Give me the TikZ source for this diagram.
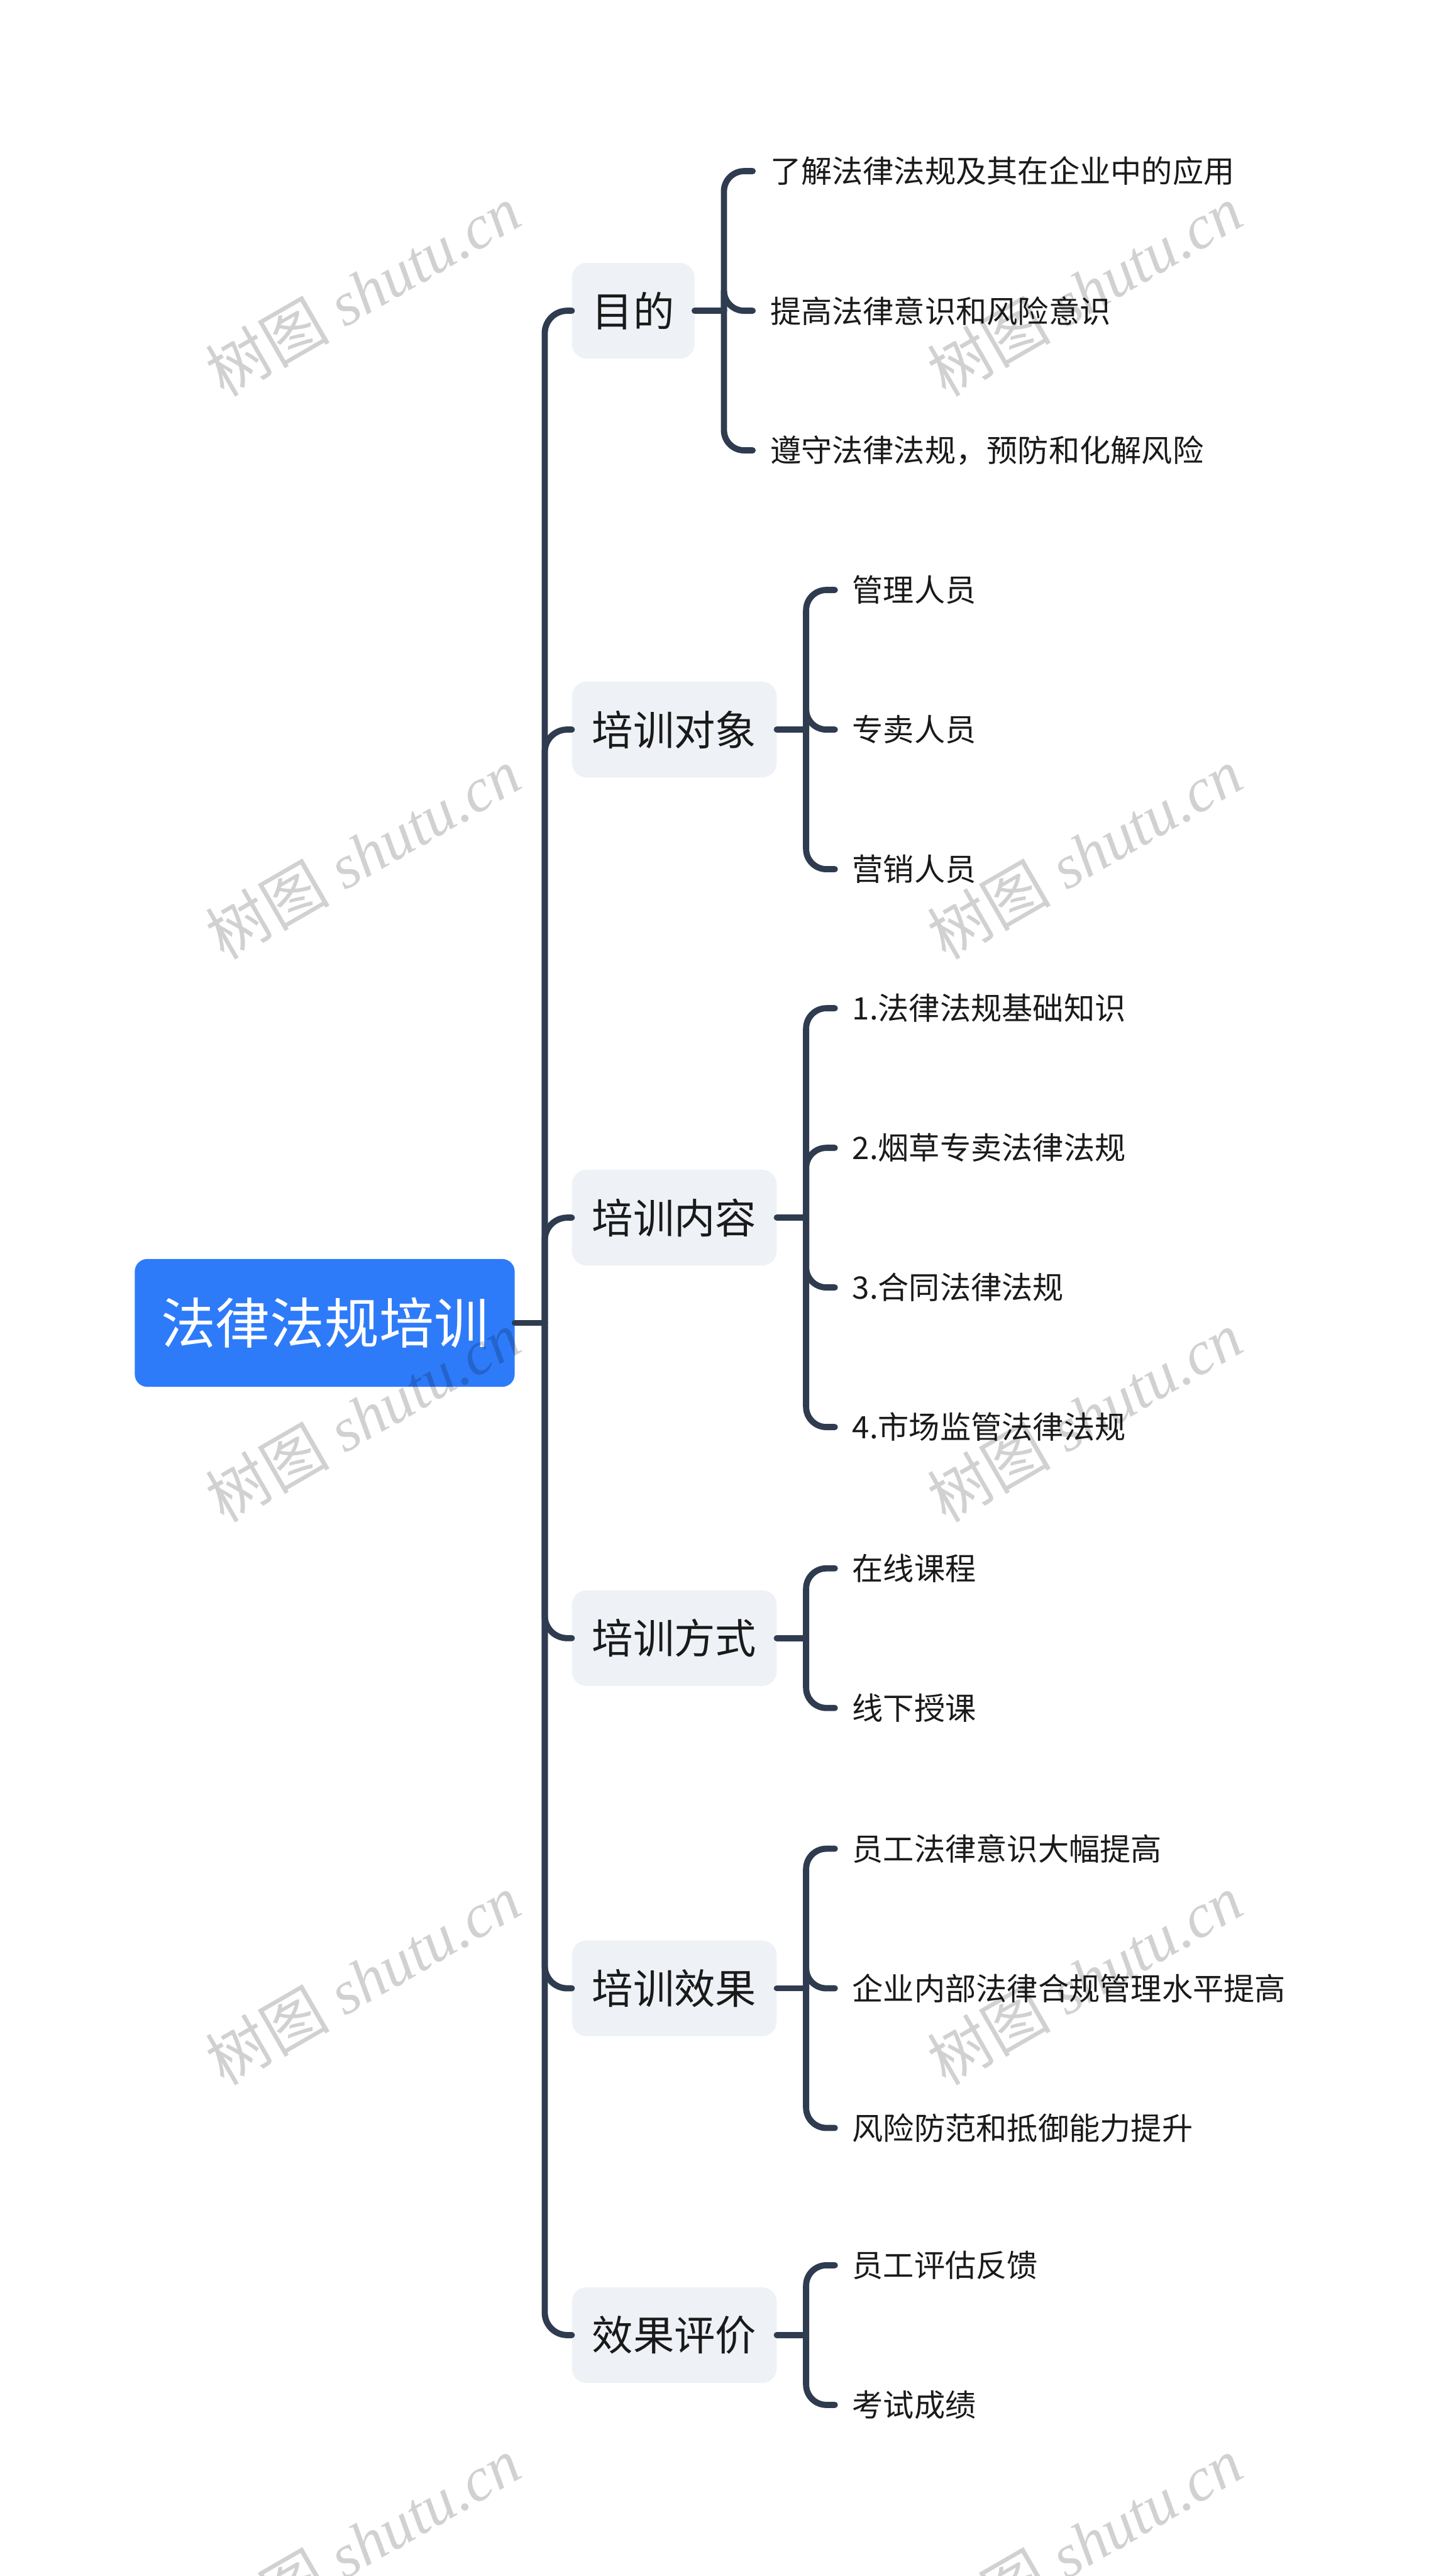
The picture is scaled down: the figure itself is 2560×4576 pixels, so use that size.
\documentclass[tikz,border=0pt]{standalone}
\usepackage{fontspec}
\setmainfont{Noto Sans CJK SC}
\newfontfamily\wmcjk{Noto Sans CJK SC}
\newfontfamily\wmlat{Liberation Serif}
\definecolor{linec}{HTML}{2F3B4F}
\definecolor{rootc}{HTML}{2E7BF9}
\definecolor{subc}{HTML}{EEF1F5}
\definecolor{txtc}{HTML}{1A1A1A}
\begin{document}
\begin{tikzpicture}[x=1pt,y=-1pt,
  conn/.style={draw=linec,line width=11pt,line cap=round},
  rootbox/.style={fill=rootc,rounded corners=22pt,minimum width=675pt,minimum height=227pt,text=white,font=\fontsize{97}{116}\selectfont,inner sep=0pt},
  subbox/.style={fill=subc,rounded corners=26pt,minimum height=170pt,inner xsep=36pt,inner ysep=0pt,text=txtc,font=\fontsize{73}{88}\selectfont,anchor=west},
  leafbox/.style={inner xsep=31pt,inner ysep=0pt,minimum height=80pt,text=txtc,font=\fontsize{55}{66}\selectfont,anchor=west},
  wm/.style={rotate=30,text=black,opacity=0.18,font=\fontsize{110}{130}\selectfont}
]
\useasboundingbox (0,0) rectangle (2560,4576);

% root and level 1
\node[rootbox] (root) at (577,2350) {法律法规培训};
\coordinate (J) at (968,2350);

\node[subbox] (s1) at (1016,552) {目的};
\node[subbox] (s2) at (1016,1296) {培训对象};
\node[subbox] (s3) at (1016,2163) {培训内容};
\node[subbox] (s4) at (1016,2910) {培训方式};
\node[subbox] (s5) at (1016,3532) {培训效果};
\node[subbox] (s6) at (1016,4148) {效果评价};

\draw[conn] (root.east) -- (J);
\foreach \s in {s1,s2,s3,s4,s5,s6}{
  \draw[conn,rounded corners=40pt] (J) |- (\s.west);
}

% bracket coordinates
\coordinate (b1) at ([xshift=52pt]s1.east);
\coordinate (b2) at ([xshift=52pt]s2.east);
\coordinate (b3) at ([xshift=52pt]s3.east);
\coordinate (b4) at ([xshift=52pt]s4.east);
\coordinate (b5) at ([xshift=52pt]s5.east);
\coordinate (b6) at ([xshift=52pt]s6.east);

% leaves of s1
\node[leafbox] (l11) at ([xshift=51pt]b1 |- 0,304) {了解法律法规及其在企业中的应用};
\node[leafbox] (l12) at ([xshift=51pt]b1 |- 0,552) {提高法律意识和风险意识};
\node[leafbox] (l13) at ([xshift=51pt]b1 |- 0,800) {遵守法律法规，预防和化解风险};
% leaves of s2
\node[leafbox] (l21) at ([xshift=51pt]b2 |- 0,1048) {管理人员};
\node[leafbox] (l22) at ([xshift=51pt]b2 |- 0,1296) {专卖人员};
\node[leafbox] (l23) at ([xshift=51pt]b2 |- 0,1544) {营销人员};
% leaves of s3
\node[leafbox] (l31) at ([xshift=51pt]b3 |- 0,1791) {1.法律法规基础知识};
\node[leafbox] (l32) at ([xshift=51pt]b3 |- 0,2039) {2.烟草专卖法律法规};
\node[leafbox] (l33) at ([xshift=51pt]b3 |- 0,2287) {3.合同法律法规};
\node[leafbox] (l34) at ([xshift=51pt]b3 |- 0,2535) {4.市场监管法律法规};
% leaves of s4
\node[leafbox] (l41) at ([xshift=51pt]b4 |- 0,2786) {在线课程};
\node[leafbox] (l42) at ([xshift=51pt]b4 |- 0,3034) {线下授课};
% leaves of s5
\node[leafbox] (l51) at ([xshift=51pt]b5 |- 0,3284) {员工法律意识大幅提高};
\node[leafbox] (l52) at ([xshift=51pt]b5 |- 0,3532) {企业内部法律合规管理水平提高};
\node[leafbox] (l53) at ([xshift=51pt]b5 |- 0,3780) {风险防范和抵御能力提升};
% leaves of s6
\node[leafbox] (l61) at ([xshift=51pt]b6 |- 0,4024) {员工评估反馈};
\node[leafbox] (l62) at ([xshift=51pt]b6 |- 0,4272) {考试成绩};

% connectors to leaves
\foreach \p/\b in {s1/b1,s2/b2,s3/b3,s4/b4,s5/b5,s6/b6}{
  \draw[conn] (\p.east) -- (\b);
}
\foreach \b/\l in {b1/l11,b1/l12,b1/l13,b2/l21,b2/l22,b2/l23,b3/l31,b3/l32,b3/l33,b3/l34,b4/l41,b4/l42,b5/l51,b5/l52,b5/l53,b6/l61,b6/l62}{
  \draw[conn,rounded corners=36pt] (\b) |- (\l.west);
}

% watermarks
\foreach \i/\wx/\wy in {1/645/516,2/1927/516,3/645/1516,4/1927/1516,5/645/2516,6/1927/2516,7/645/3516,8/1927/3516,9/645/4516,10/1927/4516}{
  \node[wm] (w\i) at (\wx,\wy) {\wmcjk 树图\hspace{0.25em}\wmlat\itshape shutu.cn};
}
\end{tikzpicture}
\end{document}
